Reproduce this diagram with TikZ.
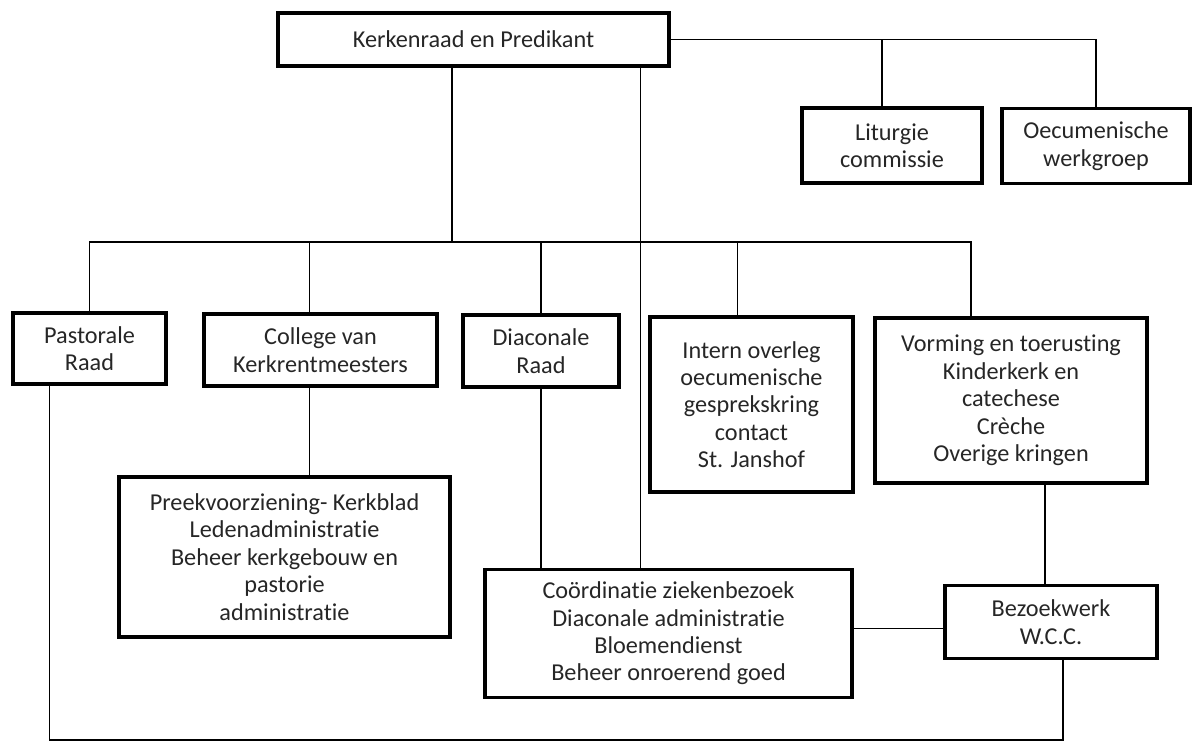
\documentclass[tikz,border=0pt]{standalone}
\usepackage{fontspec}
\setmainfont[Ligatures={NoCommon}]{Carlito}
\usepackage{tikz}

\begin{document}
\begin{tikzpicture}[x=0.02cm,y=-0.02cm,
		blok/.style 2 args={draw,line width=1.8pt,minimum width=#1,minimum height=#2,align=center,inner sep=2pt,text=black!85,font=\fontsize{13.8}{15.6}\selectfont},
		lijn/.style={line width=0.8pt}]
			\useasboundingbox (0,0) rectangle (1195,744);
			\node[blok={7.82cm}{1.06cm}] (kerk) at (473.5,39.5) {Kerkenraad en Predikant};
			\node[blok={3.60cm}{1.50cm}] (litu) at (892,145.5) {Liturgie\\commissie};
			\node[blok={3.76cm}{1.50cm}] (oecu) at (1096,146) {Oecumenische\\werkgroep};
			
			\node[blok={3.06cm}{1.42cm}] (pastoraal) at (89.5,348.5) {Pastorale\\Raad};
			\node[blok={4.66cm}{1.44cm}] (college) at (320.5,350) {College van\\Kerkrentmeesters};
			\node[blok={3.12cm}{1.44cm}] (diac) at (541,351) {Diaconale\\Raad};
			\node[blok={4.06cm}{3.50cm}] (intern) at (751.5,404.5) {Intern overleg\\oecumenische\\gesprekskring\\contact\\St. Janshof};
			\node[blok={5.44cm}{3.30cm}] (vorm) at (1011,400.5) {Vorming en toerusting\\Kinderkerk en\\catechese\\Crèche\\Overige kringen};
			
			\node[blok={6.62cm}{3.20cm}] (preek) at (284.5,557) {Preekvoorziening- Kerkblad\\Ledenadministratie\\Beheer kerkgebouw en\\pastorie\\administratie};
			\node[blok={7.34cm}{2.56cm}] (coord) at (668.5,633.5) {Coördinatie ziekenbezoek\\Diaconale administratie\\Bloemendienst\\Beheer onroerend goed};
			\node[blok={4.24cm}{1.46cm}] (bezoek) at (1051,622) {Bezoekwerk\\W.C.C.};
			
			\coordinate (bus) at (452,242);
			\coordinate (onder) at (0,740);
			\path (vorm.north) ++(-40,0) coordinate (v1);
			\path (bezoek.south) ++(12,0) coordinate (b1);
			
			\draw[lijn] (kerk.east) -| (oecu.north);
			\draw[lijn] (litu.north) ++(-10,0) coordinate (l1) -- (l1 |- kerk.east);
			\draw[lijn] (kerk.south) ++(-21.5,0) coordinate (k1) -- (k1 |- bus);
			\draw[lijn] (kerk.south) ++(167,0) coordinate (k2) -- (k2 |- coord.north);
			\draw[lijn] (pastoraal.north) |- (bus) -| (v1);
			\draw[lijn] (college.north) ++(-11,0) coordinate (c1) -- (c1 |- bus);
			\draw[lijn] (diac.north) -- (diac.north |- bus);
			\draw[lijn] (intern.north) ++(-14,0) coordinate (i1) -- (i1 |- bus);
			\draw[lijn] (college.south) ++(-11,0) coordinate (c2) -- (c2 |- preek.north);
			\draw[lijn] (diac.south) -- (diac.south |- coord.north);
			\draw[lijn] (vorm.south) ++(34,0) coordinate (v2) -- (v2 |- bezoek.north);
			\draw[lijn] (coord.east) ++(0,-5) coordinate (cb) -- (cb -| bezoek.west);
			\draw[lijn] (pastoraal.south) ++(-40,0) coordinate (p1) -- (p1 |- onder) -| (b1);
		\end{tikzpicture}
\end{document}
